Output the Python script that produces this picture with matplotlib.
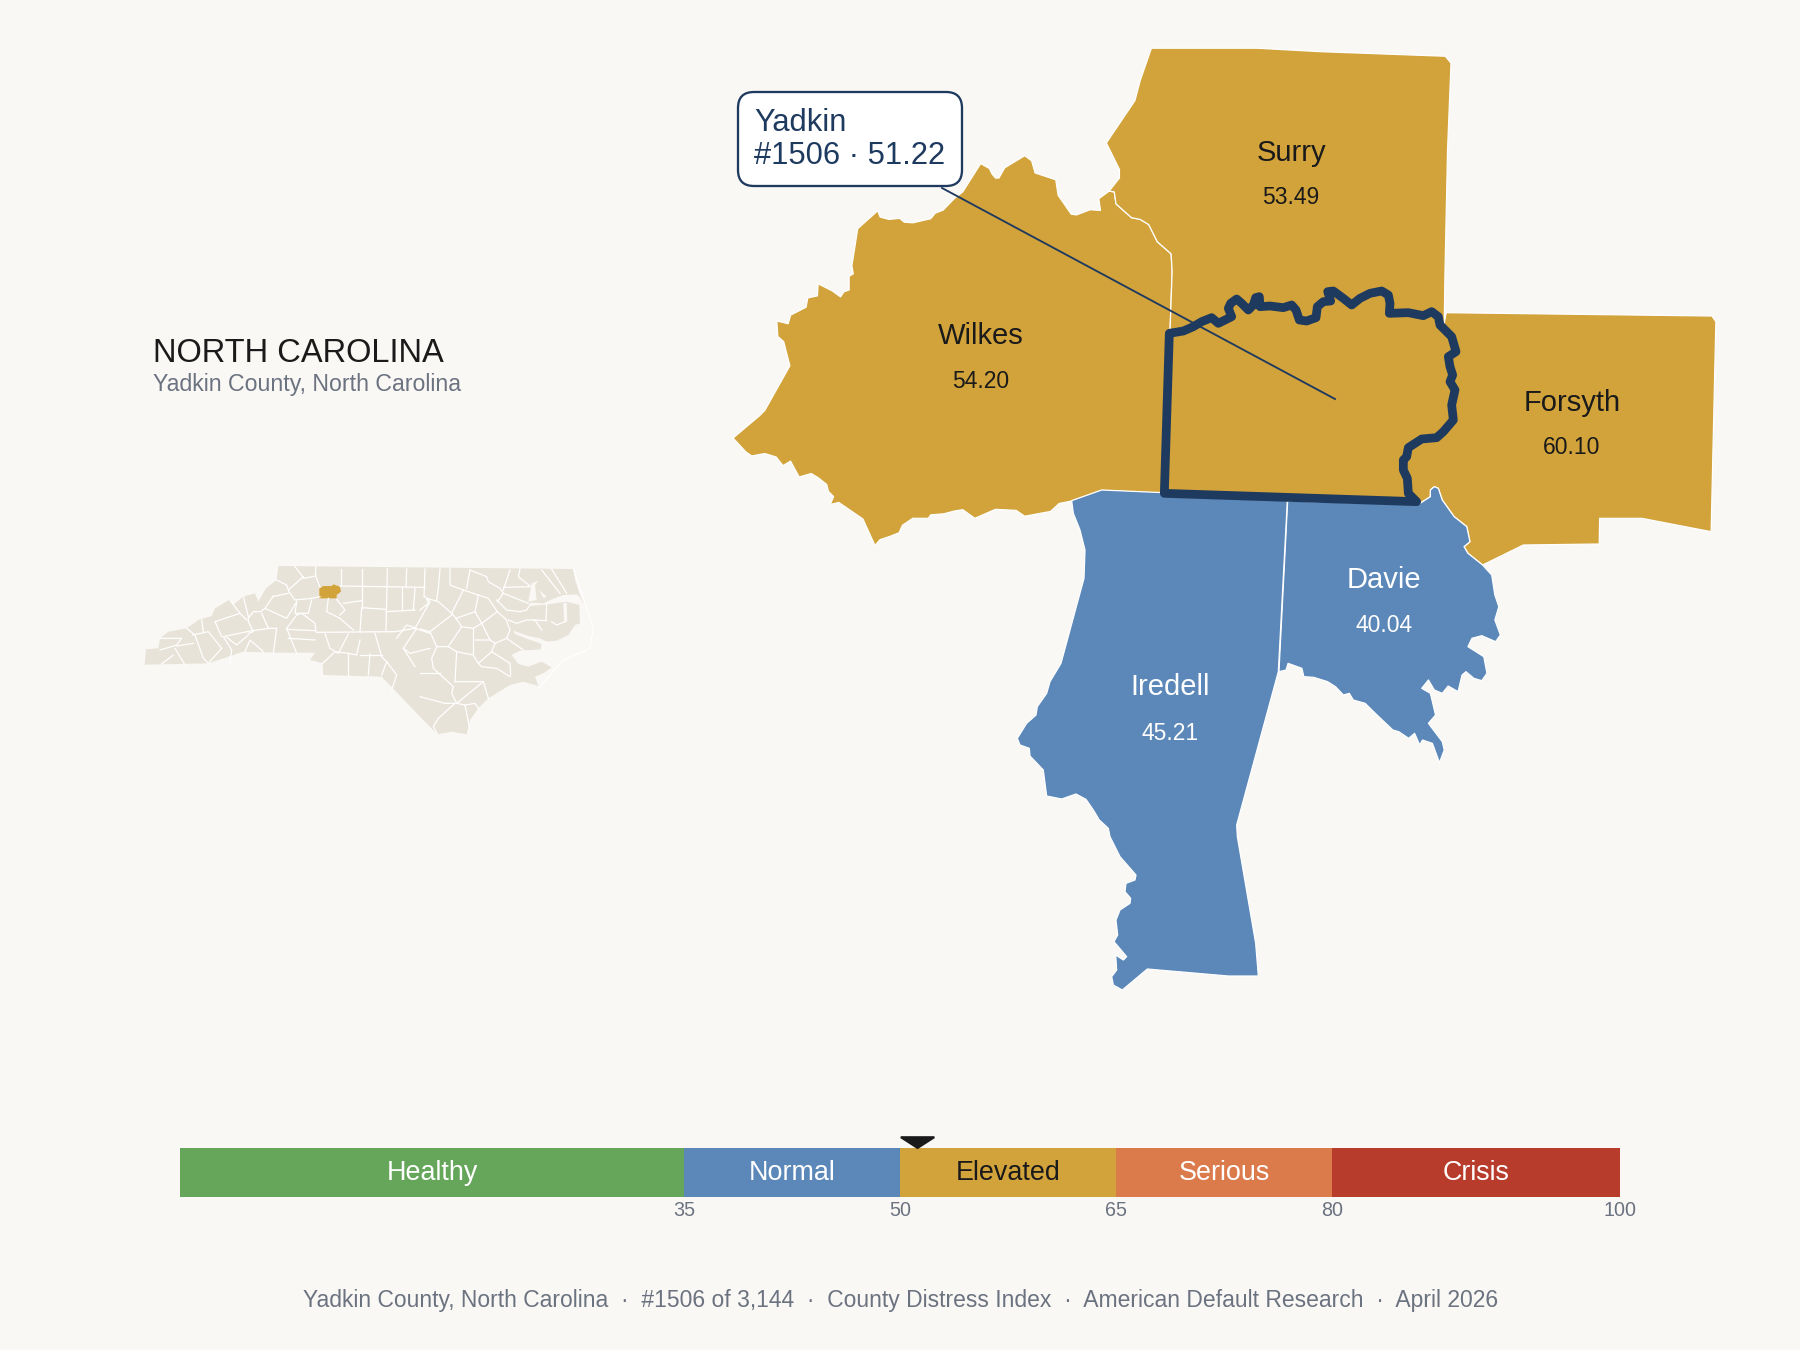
#!/usr/bin/env python3
"""County distress locator map for Yadkin County, North Carolina."""
import matplotlib

matplotlib.use("Agg")
import matplotlib.pyplot as plt
from matplotlib.patches import FancyBboxPatch, Polygon

plt.rcParams["font.family"] = ["Liberation Sans", "DejaVu Sans"]

BG = "#FAF8F5"
NAVY = "#1F3A5F"
GREY = "#6B7280"
DARK = "#1A1A1A"
LAND = "#E8E3D8"

# score bands
band_edges = [0, 35, 50, 65, 80, 100]
band_names = ["Healthy", "Normal", "Elevated", "Serious", "Crisis"]
band_colors = ["#66A65A", "#5B88B8", "#D2A33B", "#DB7A4A", "#B83C2B"]
band_text = ["white", "white", DARK, "white", "white"]

county_names = ["Wilkes", "Surry", "Forsyth", "Davie", "Iredell"]
county_scores = [54.20, 53.49, 60.10, 40.04, 45.21]
yadkin_score = 51.22
yadkin_rank = 1506
n_counties = 3144


# outlines were traced at different crops, hence the small helper
def crop(pts, x0=0, y0=0, kx=1.0, ky=None):
    ky = kx if ky is None else ky
    return [(x0 + x / kx, y0 + y / ky) for x, y in pts]


def z2(pts):
    return crop(pts, 720, 30, 2.904)


def z3(pts):
    return crop(pts, 1120, 270, 2.529, 3.0)


def z4(pts):
    return crop(pts, 1000, 480, 3.0)


def zy(pts):
    return crop(pts, 1160, 275, 3.0)


def inset_west(pts):
    return crop(pts, 140, 560, 3.0)


def inset_east(pts):
    return crop(pts, 420, 560, 3.0)


yadkin_north = zy([
    (28, 175), (70, 168), (100, 155), (125, 140), (155, 128), (175, 145), (215, 125), (205, 100),
    (212, 85), (230, 72), (245, 85), (265, 105), (280, 90), (287, 68), (298, 65), (300, 95), (330, 93),
    (370, 98), (395, 90), (408, 105), (418, 135), (440, 138), (468, 128), (472, 95), (490, 80),
    (512, 78), (503, 50), (520, 48), (550, 70), (575, 90), (600, 70), (630, 55), (665, 48), (685, 60),
    (690, 85), (688, 115), (745, 113), (790, 122), (815, 110), (835, 125),
])
yadkin_east = zy([
    (835, 125), (840, 150), (875, 185), (888, 230), (865, 245), (870, 275), (878, 300), (870, 320),
    (885, 345), (875, 390), (880, 435), (850, 470), (830, 488), (785, 492), (745, 518), (740, 545),
    (730, 555), (730, 585), (742, 610), (745, 655), (770, 680),
])
yadkin_sw = zy([(13, 655)])
yadkin_outline = yadkin_north + yadkin_east[1:] + yadkin_sw

wilkes_surry = z2([
    (1130, 468), (1145, 470), (1150, 505), (1195, 545), (1220, 550), (1245, 565), (1270, 615),
    (1310, 650), (1313, 700), (1307, 872),
])
wilkes_outline = z2([
    (38, 1185), (115, 1120), (130, 1105), (203, 975), (190, 925), (185, 905), (168, 890), (165, 845),
    (198, 853), (205, 828), (250, 805), (255, 778), (283, 772), (285, 737), (325, 757), (350, 775),
    (360, 760), (375, 755), (375, 715), (387, 708), (383, 685), (400, 577), (458, 525), (465, 543),
    (490, 550), (522, 547), (535, 558), (560, 560), (590, 553), (612, 548), (625, 532), (648, 523),
    (680, 490), (705, 470), (757, 388), (782, 402), (790, 418), (800, 430), (810, 430), (827, 400),
    (885, 365), (905, 380), (915, 415), (975, 435), (982, 480), (1020, 535), (1035, 537), (1075, 522),
    (1105, 524), (1100, 490),
]) + wilkes_surry + yadkin_sw + z2([
    (1110, 1337), (1020, 1368), (985, 1375), (960, 1398), (885, 1412), (860, 1395), (800, 1392),
    (740, 1418), (705, 1393), (680, 1397), (650, 1405), (612, 1408), (605, 1418), (560, 1418),
    (530, 1438), (520, 1460), (495, 1470), (465, 1480), (450, 1497), (415, 1420), (345, 1372),
    (320, 1378), (330, 1355), (315, 1340), (310, 1320), (285, 1300), (265, 1288), (230, 1298),
    (220, 1280), (205, 1252), (183, 1265), (163, 1240), (130, 1230), (92, 1237), (75, 1225),
])
surry_outline = z2([
    (1253, 52), (1220, 148), (1205, 205), (1122, 328), (1160, 405), (1160, 430),
]) + wilkes_surry + yadkin_north + z3([(820, 160), (822, 0)]) + crop([
    (1261, 130), (1264, 55), (1259, 49), (1150, 45), (1095, 42), (1003, 42),
], kx=1568 / 1800)
davie_forsyth = z3([
    (755, 703), (785, 680), (785, 660), (795, 650), (805, 655), (815, 690), (845, 740), (877, 770),
    (885, 815), (870, 830), (880, 850), (917, 885),
])
forsyth_outline = z3([
    (820, 160), (825, 128), (1497, 138), (1507, 155), (1503, 360), (1495, 785), (1320, 745),
    (1213, 745), (1212, 822), (1020, 825),
]) + davie_forsyth[::-1] + yadkin_east[::-1]
davie_outline = z3([(424, 693)]) + davie_forsyth + z3([
    (940, 915), (948, 975), (958, 1010), (948, 1050), (962, 1095), (950, 1115), (915, 1097),
    (890, 1105), (880, 1130), (920, 1160), (928, 1210), (915, 1232), (895, 1225), (875, 1205),
    (865, 1215), (855, 1265), (830, 1248), (815, 1270), (795, 1260), (780, 1230), (763, 1255),
    (785, 1270), (798, 1335), (780, 1360), (815, 1415), (820, 1440), (808, 1478), (790, 1420),
    (765, 1410), (758, 1425), (745, 1390), (730, 1405), (705, 1385), (690, 1380), (650, 1335),
    (620, 1300), (590, 1290), (580, 1270), (565, 1275), (545, 1250), (525, 1235), (490, 1222),
    (465, 1220), (460, 1195), (425, 1180), (420, 1200), (402, 1205),
])
iredell_outline = z4([
    (215, 62), (305, 30), (490, 38), (862, 62), (835, 575), (710, 1035), (712, 1070), (767, 1390),
    (775, 1488), (685, 1488), (442, 1467), (367, 1530), (340, 1515), (335, 1490), (350, 1470),
    (347, 1425), (370, 1440), (380, 1430), (342, 1385), (353, 1365), (348, 1320), (360, 1290),
    (390, 1270), (392, 1255), (375, 1235), (378, 1210), (405, 1200), (408, 1185), (360, 1130),
    (330, 1070), (325, 1045), (298, 1020), (280, 990), (258, 958), (228, 942), (185, 957), (140, 948),
    (135, 910), (130, 870), (90, 828), (88, 805), (60, 795), (52, 775), (80, 730), (108, 705),
    (112, 680), (140, 640), (150, 605), (183, 550), (252, 295), (255, 210), (240, 150), (220, 100),
])
county_outlines = [wilkes_outline, surry_outline, forsyth_outline, davie_outline, iredell_outline]
county_label_xy = [(981, 336), (1291, 153), (1572, 403), (1384, 580), (1170, 687)]
county_value_xy = [(981, 382), (1291, 198), (1572, 447), (1384, 626), (1170, 733)]

# state inset
state_outline = inset_west([
    (14, 314), (18, 268), (55, 265), (60, 235), (85, 215), (140, 205), (175, 180), (215, 168),
    (225, 145), (270, 118), (278, 135), (310, 110), (345, 100), (355, 125), (378, 85), (410, 60),
    (415, 18),
]) + inset_east([
    (460, 27), (465, 60), (480, 105), (495, 135), (478, 110), (470, 103), (430, 105), (395, 118),
    (370, 130), (330, 128), (330, 138), (385, 133), (440, 125), (478, 135), (480, 190), (465, 195),
    (445, 225), (410, 242), (380, 245), (360, 235), (325, 228), (280, 212), (285, 222), (325, 238),
    (355, 248), (365, 252), (362, 268), (335, 270), (300, 272), (275, 285), (295, 312), (325, 320),
    (365, 305), (395, 322), (370, 340), (345, 350), (355, 378), (310, 365), (270, 375), (205, 415),
    (175, 445), (150, 480), (140, 523), (95, 515), (52, 523), (0, 470),
]) + inset_west([
    (725, 350), (550, 345), (548, 310), (510, 300), (525, 278), (410, 278), (310, 275), (205, 310),
])
outer_banks = [(355, 385), (430, 300), (510, 265), (520, 205), (495, 130), (460, 27)]
state_water = [
    [(325, 125), (335, 70), (355, 62), (345, 75), (350, 120)],
    [(358, 90), (380, 110), (370, 115)],
    [(430, 130), (440, 128), (442, 185), (432, 185)],
]
county_lines_west = [
    [(410, 60), (440, 75), (447, 95), (465, 120), (515, 115), (540, 110)], [(490, 50), (445, 90)],
    [(465, 20), (492, 55)], [(527, 20), (527, 48), (492, 55)], [(527, 48), (540, 82)],
    [(603, 27), (603, 78)], [(665, 27), (665, 143)], [(742, 27), (738, 213)], [(800, 27), (798, 80)],
    [(855, 27), (852, 110)], [(600, 78), (855, 82)], [(398, 110), (445, 100)],
    [(400, 108), (375, 145), (440, 175), (470, 125)], [(375, 145), (362, 155), (340, 155), (325, 175)],
    [(310, 110), (325, 170), (325, 185), (340, 215), (325, 220)], [(270, 120), (300, 160), (320, 180)],
    [(225, 185), (300, 160)], [(225, 185), (245, 230)], [(250, 230), (335, 212), (390, 205), (410, 205)],
    [(410, 205), (400, 280)], [(440, 205), (470, 280)], [(440, 208), (525, 212)], [(445, 235), (525, 240)],
    [(365, 160), (385, 205)], [(440, 205), (470, 165), (485, 160), (525, 190), (528, 215)],
    [(470, 125), (465, 160), (505, 160), (515, 120)], [(565, 115), (560, 155), (600, 175), (640, 210)],
    [(590, 118), (615, 150), (600, 165)], [(610, 130), (665, 122)], [(665, 143), (738, 148)],
    [(665, 145), (660, 215)], [(738, 155), (825, 150)], [(785, 82), (785, 150)], [(825, 85), (820, 150)],
    [(855, 110), (870, 125), (825, 205)], [(530, 217), (765, 215), (825, 205), (870, 220)],
    [(555, 220), (570, 265), (595, 280), (625, 222)], [(660, 240), (650, 285), (625, 280), (585, 275), (548, 310)],
    [(625, 280), (625, 345)], [(690, 282), (685, 345)], [(705, 220), (725, 290), (740, 305)],
    [(660, 285), (725, 285)], [(740, 305), (725, 345)], [(740, 305), (770, 345), (755, 390)],
    [(140, 205), (165, 225), (190, 295), (205, 310)], [(158, 225), (205, 215), (245, 265), (205, 310)],
    [(60, 235), (125, 235), (110, 255), (60, 270)], [(110, 258), (160, 250)], [(105, 265), (135, 315)],
    [(100, 285), (65, 312)], [(250, 230), (275, 270), (270, 310)], [(315, 275), (330, 240), (370, 275)],
    [(260, 232), (290, 255), (325, 225)], [(185, 180), (190, 215)],
    [(770, 235), (800, 195), (830, 205), (790, 265), (825, 320)], [(790, 265), (810, 280), (870, 265)],
]
county_lines_east = [
    [(60, 27), (55, 85), (50, 120)], [(90, 27), (90, 75), (130, 90)], [(150, 30), (140, 85)],
    [(270, 30), (250, 90)], [(150, 30), (200, 50), (205, 65), (240, 85), (250, 100)],
    [(0, 150), (25, 130), (20, 115), (55, 125), (95, 160), (130, 90)],
    [(130, 90), (175, 105), (165, 155), (108, 175), (95, 160)],
    [(165, 155), (185, 190), (232, 155), (258, 178), (270, 210)],
    [(175, 105), (205, 115), (232, 155)],
    [(108, 175), (125, 200), (160, 205), (185, 190)], [(95, 165), (30, 215), (50, 260), (85, 260), (125, 200)],
    [(30, 215), (0, 207)], [(50, 260), (35, 295), (40, 325), (100, 380)], [(85, 260), (110, 275), (105, 365)],
    [(110, 275), (160, 285), (175, 310)], [(160, 205), (160, 280)], [(165, 240), (210, 240), (185, 190)],
    [(210, 240), (225, 250), (260, 235), (270, 210)],
    [(225, 250), (215, 275), (175, 310), (185, 320), (230, 325), (270, 350)], [(215, 275), (270, 310), (272, 345)],
    [(260, 235), (310, 270)], [(105, 365), (190, 365), (205, 415)], [(100, 380), (95, 400), (110, 430), (190, 365)],
    [(0, 340), (60, 340)], [(0, 410), (75, 430), (105, 430)], [(110, 430), (135, 435), (165, 430), (175, 445)],
    [(135, 435), (150, 510)], [(105, 430), (55, 475), (40, 500), (52, 522)], [(330, 80), (250, 82)],
    [(300, 27), (295, 50), (330, 78)], [(365, 30), (420, 100)], [(395, 27), (440, 100)],
    [(232, 125), (250, 100), (325, 130)], [(230, 120), (260, 150), (300, 155), (320, 150), (330, 135)],
    [(265, 180), (290, 190), (320, 180), (345, 180), (365, 210)], [(380, 133), (378, 180)],
    [(340, 180), (380, 182)], [(395, 185), (410, 195), (435, 185)],
]
state_yadkin = [(538, 85), (550, 78), (575, 78), (580, 73), (600, 80), (603, 95), (590, 105), (590, 115), (538, 115)]


def band_of(score):
    for i in range(len(band_names)):
        if score < band_edges[i + 1]:
            return i
    return len(band_names) - 1


fig = plt.figure(figsize=(12, 9), dpi=150, facecolor=BG)
ax = fig.add_axes([0, 0, 1, 1])
ax.set_xlim(0, 1800)
ax.set_ylim(1350, 0)
ax.axis("off")

# inset first
ax.add_patch(Polygon(state_outline, closed=True, fc=LAND, ec="none"))
for water in state_water:
    ax.add_patch(Polygon(inset_east(water), closed=True, fc=BG, ec="none"))
inset_lines = [inset_west(p) for p in county_lines_west] + [inset_east(p) for p in county_lines_east]
inset_lines.append(inset_east(outer_banks))
for line in inset_lines:
    xs, ys = zip(*line)
    ax.plot(xs, ys, color="white", lw=0.6, solid_joinstyle="round")
ax.add_patch(Polygon(inset_west(state_yadkin), closed=True, fc=band_colors[band_of(yadkin_score)], ec="none"))

# neighbours
for outline, name, score, lab_xy, val_xy in zip(
    county_outlines, county_names, county_scores, county_label_xy, county_value_xy
):
    b = band_of(score)
    ax.add_patch(Polygon(outline, closed=True, fc=band_colors[b], ec="white", lw=0.6, joinstyle="round"))
    ax.text(*lab_xy, name, ha="center", va="center", fontsize=14, color=band_text[b])
    ax.text(*val_xy, f"{score:.2f}", ha="center", va="center", fontsize=11, color=band_text[b])

ax.add_patch(Polygon(yadkin_outline, closed=True, fc=band_colors[band_of(yadkin_score)], ec=NAVY, lw=4.2,
                     joinstyle="round"))

# callout
ax.plot([942, 1335], [188, 399], color=NAVY, lw=0.9)
ax.add_patch(FancyBboxPatch((738, 92), 224, 94, boxstyle="round,pad=0,rounding_size=16",
                            fc="white", ec=NAVY, lw=1.1))
ax.text(754, 123, "Yadkin", ha="left", va="center", fontsize=14.8, color=NAVY)
ax.text(754, 156, f"#{yadkin_rank} · {yadkin_score:.2f}", ha="left", va="center", fontsize=14.8, color=NAVY)

ax.text(153, 353, "NORTH CAROLINA", ha="left", va="center", fontsize=15.7, color=DARK)
ax.text(153, 385, "Yadkin County, North Carolina", ha="left", va="center", fontsize=11.1, color=GREY)
ax.text(901, 1301, f"Yadkin County, North Carolina  ·  #{yadkin_rank} of {n_counties:,}  ·  County Distress Index"
        "  ·  American Default Research  ·  April 2026", ha="center", va="center", fontsize=11, color=GREY)

# score bar
bar = fig.add_axes([180 / 1800, 1 - 1197 / 1350, 1440 / 1800, 49 / 1350])
bar.set_xlim(0, 100)
bar.set_ylim(0, 1)
bar.axis("off")
for i, name in enumerate(band_names):
    lo, hi = band_edges[i], band_edges[i + 1]
    bar.barh(0.5, hi - lo, left=lo, height=1, color=band_colors[i])
    bar.text((lo + hi) / 2, 0.5, name, ha="center", va="center", fontsize=12.9, color=band_text[i])
for edge in band_edges[1:]:
    bar.text(edge, -0.27, str(edge), ha="center", va="center", fontsize=9.5, color=GREY, clip_on=False)
bar.fill([yadkin_score - 1.16, yadkin_score + 1.16, yadkin_score], [1.22, 1.22, 1.0], color=DARK, clip_on=False)

fig.savefig("out.png", dpi=150, facecolor=BG)
